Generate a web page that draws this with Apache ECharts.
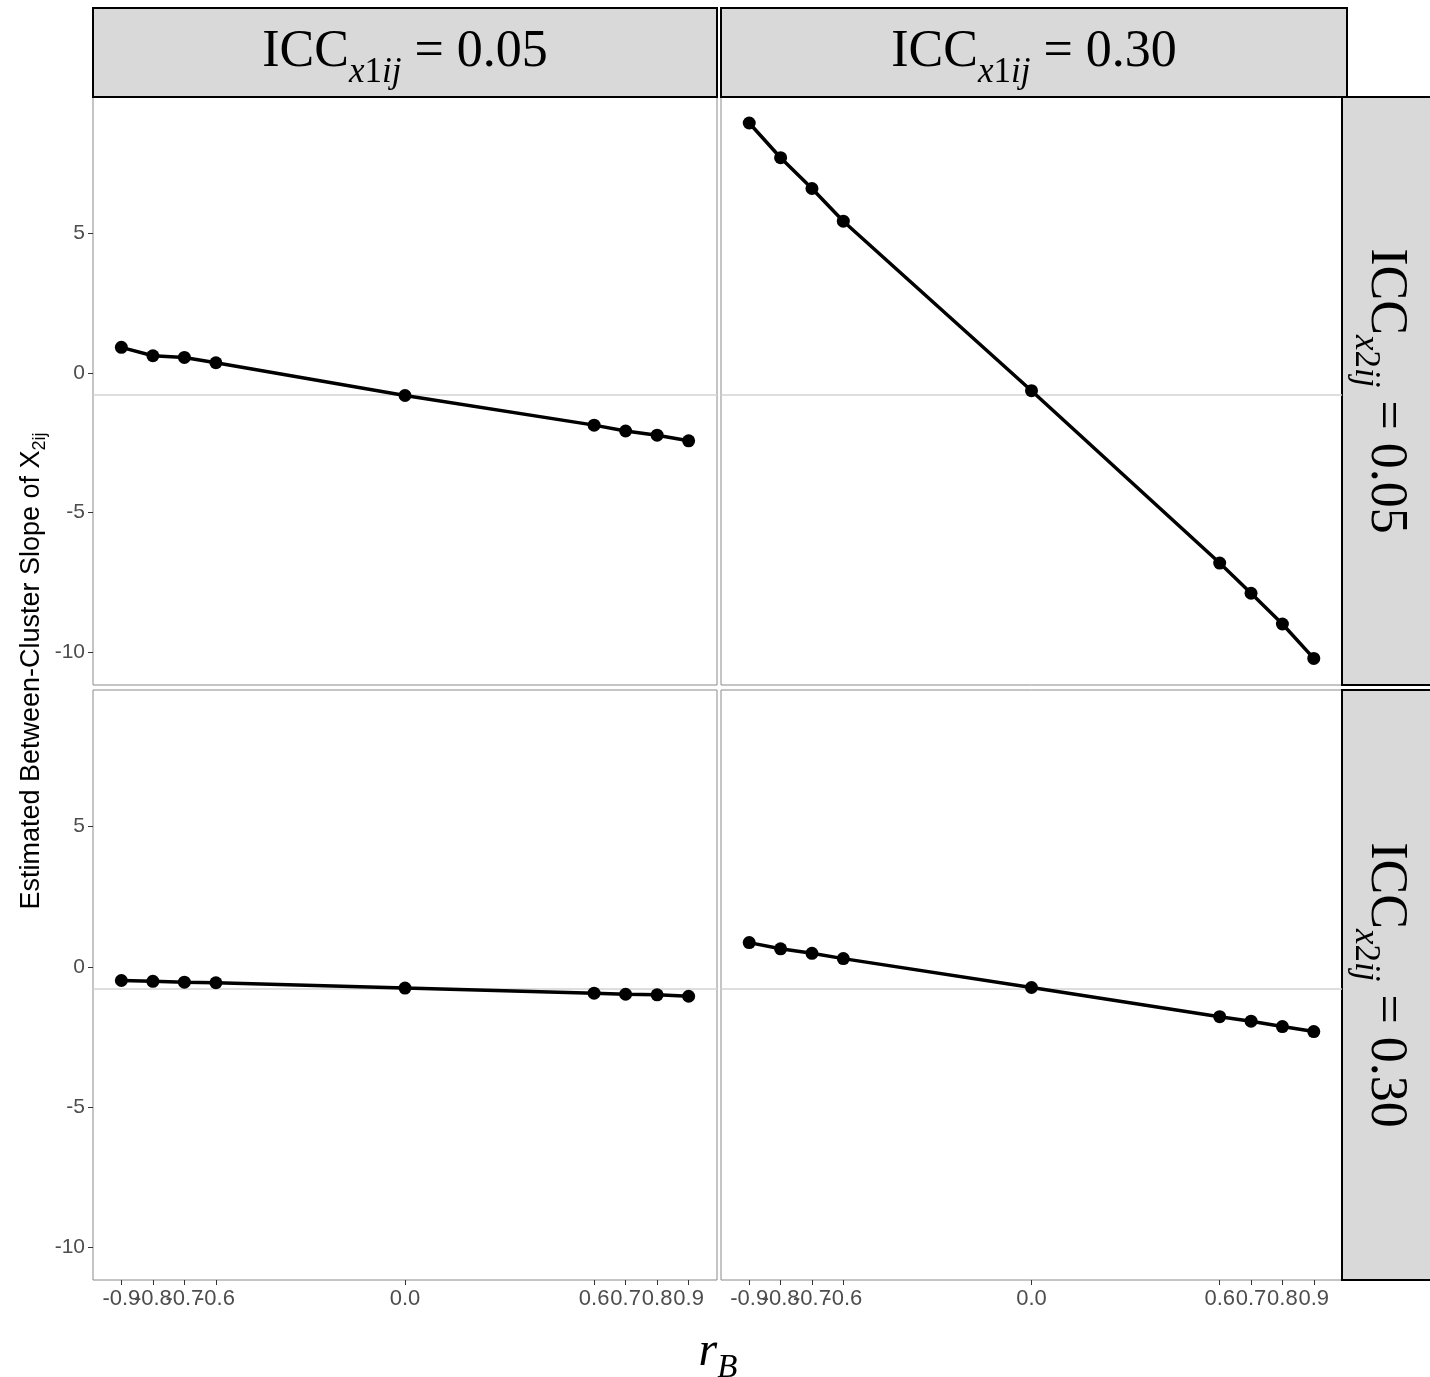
<!DOCTYPE html>
<html>
<head>
<meta charset="utf-8">
<script src="https://cdn.jsdelivr.net/npm/echarts@6/dist/echarts.min.js"></script>
<style>
  html, body { margin: 0; padding: 0; background: #fff; }
  #main { width: 1430px; height: 1377px; }
</style>
</head>
<body>
<div id="main"></div>
<script>
// r_B values (x) and tick marks
var rB = [-0.9, -0.8, -0.7, -0.6, 0.0, 0.6, 0.7, 0.8, 0.9];
var xTicks = [-0.9, -0.8, -0.7, -0.6, 0.0, 0.6, 0.7, 0.8, 0.9];
var yTicks = [-10, -5, 0, 5];

// estimated between-cluster slope, one array per panel
var slopeTL = [0.91, 0.61, 0.55, 0.36, -0.81, -1.87, -2.08, -2.23, -2.43]; // x1 0.05, x2 0.05
var slopeTR = [8.93, 7.69, 6.59, 5.42, -0.64, -6.80, -7.88, -8.98, -10.21]; // x1 0.30, x2 0.05
var slopeBL = [-0.49, -0.52, -0.55, -0.57, -0.76, -0.94, -0.98, -1.00, -1.05]; // x1 0.05, x2 0.30
var slopeBR = [0.86, 0.64, 0.48, 0.29, -0.74, -1.78, -1.94, -2.13, -2.31]; // x1 0.30, x2 0.30

// reference (true) value line
var refLine = -0.8;

var colLabels = ["0.05", "0.30"];
var rowLabels = ["0.05", "0.30"];

// the x labels overlap like in the original; echarts drops a label next to an
// overlapping min label, so every other label goes on a twin axis
var xLabelsA = xTicks.filter(function (v, i) { return i % 2 === 0; });
var xLabelsB = xTicks.filter(function (v, i) { return i % 2 === 1; });

var myChart = echarts.init(document.getElementById("main"));

var serif = "Liberation Serif";
var sans = "Liberation Sans";

// panel rectangles
var grids = [
  { left: 93, top: 97, width: 624, height: 588 },
  { left: 721, top: 97, width: 621, height: 588 },
  { left: 93, top: 690, width: 624, height: 590 },
  { left: 721, top: 690, width: 621, height: 590 }
];
var panelData = [slopeTL, slopeTR, slopeBL, slopeBR];

function pairs(vals) {
  var out = [];
  for (var i = 0; i < rB.length; i++) {
    out.push([rB[i], vals[i]]);
  }
  return out;
}

// strip label text with subscript, e.g. ICC_{x1ij} = 0.05
function stripRich(idx, value) {
  return {
    text: "{a|ICC}{s|x}{n|" + idx + "}{s|ij}{a| = " + value + "}",
    rich: {
      a: { fontFamily: serif, fontSize: 52, lineHeight: 76, fill: "#000" },
      s: { fontFamily: serif, fontStyle: "italic", fontSize: 35, lineHeight: 35, verticalAlign: "bottom", fill: "#000" },
      n: { fontFamily: serif, fontSize: 35, lineHeight: 35, verticalAlign: "bottom", fill: "#000" }
    },
    align: "center",
    verticalAlign: "middle"
  };
}

function topStrip(x, w, value) {
  return {
    type: "group",
    children: [
      {
        type: "rect",
        shape: { x: x, y: 8, width: w, height: 89 },
        style: { fill: "#d9d9d9", stroke: "#000", lineWidth: 2 }
      },
      {
        type: "text",
        x: x + w / 2,
        y: 52,
        style: stripRich(1, value)
      }
    ]
  };
}

function rightStrip(y, h, value) {
  return {
    type: "group",
    children: [
      {
        type: "rect",
        shape: { x: 1342, y: y, width: 100, height: h },
        style: { fill: "#d9d9d9", stroke: "#000", lineWidth: 2 }
      },
      {
        type: "text",
        x: 1386,
        y: y + h / 2,
        rotation: -Math.PI / 2,
        style: stripRich(2, value)
      }
    ]
  };
}

function makeXAxis(gridIdx, labels, showTicks) {
  var bottomRow = gridIdx >= 2;
  return {
    type: "value",
    gridIndex: gridIdx,
    position: "bottom",
    min: -0.99,
    max: 0.99,
    axisLine: { show: false, onZero: false },
    splitLine: { show: false },
    axisTick: {
      show: bottomRow && showTicks,
      customValues: xTicks,
      length: 5,
      lineStyle: { color: "#333", width: 1 }
    },
    axisLabel: {
      show: bottomRow,
      customValues: labels,
      showMinLabel: true,
      showMaxLabel: true,
      hideOverlap: false,
      margin: 8,
      color: "#4d4d4d",
      fontFamily: sans,
      fontSize: 22,
      formatter: function (v) { return v.toFixed(1); }
    }
  };
}

var xAxes = [];
grids.forEach(function (g, i) {
  xAxes.push(makeXAxis(i, xLabelsA, true));
});
grids.forEach(function (g, i) {
  xAxes.push(makeXAxis(i, xLabelsB, false));
});

var option = {
  animation: false,
  backgroundColor: "#fff",
  grid: grids.map(function (g) {
    return {
      left: g.left, top: g.top, width: g.width, height: g.height,
      show: true, borderColor: "#8a8a8a", borderWidth: 1, backgroundColor: "#fff"
    };
  }),
  xAxis: xAxes,
  yAxis: grids.map(function (g, i) {
    var leftCol = i % 2 === 0;
    return {
      type: "value",
      gridIndex: i,
      position: "left",
      min: -11.16,
      max: 9.86,
      axisLine: { show: false, onZero: false },
      splitLine: { show: false },
      axisTick: {
        show: leftCol,
        customValues: yTicks,
        length: 5,
        lineStyle: { color: "#333", width: 1 }
      },
      axisLabel: {
        show: leftCol,
        customValues: yTicks,
        showMinLabel: true,
        showMaxLabel: true,
        margin: 8,
        color: "#4d4d4d",
        fontFamily: sans,
        fontSize: 21
      }
    };
  }),
  series: panelData.map(function (vals, i) {
    return {
      type: "line",
      xAxisIndex: i,
      yAxisIndex: i,
      data: pairs(vals),
      symbol: "circle",
      symbolSize: 13,
      z: 3,
      lineStyle: { color: "#000", width: 3.5 },
      itemStyle: { color: "#000" },
      markLine: {
        silent: true,
        z: 1,
        symbol: "none",
        label: { show: false },
        lineStyle: { color: "#d3d3d3", width: 1.5, type: "solid" },
        data: [{ yAxis: refLine }]
      }
    };
  }),
  graphic: [
    topStrip(93, 624, colLabels[0]),
    topStrip(721, 626, colLabels[1]),
    rightStrip(97, 588, rowLabels[0]),
    rightStrip(690, 590, rowLabels[1]),
    {
      // y axis title
      type: "text",
      x: 32,
      y: 671,
      rotation: Math.PI / 2,
      style: {
        text: "{a|Estimated Between-Cluster Slope of X}{s|2ij}",
        rich: {
          a: { fontFamily: sans, fontSize: 27, lineHeight: 34, fill: "#000" },
          s: { fontFamily: sans, fontSize: 18, lineHeight: 18, verticalAlign: "bottom", fill: "#000" }
        },
        align: "center",
        verticalAlign: "middle"
      }
    },
    {
      // x axis title
      type: "text",
      x: 718,
      y: 1352,
      style: {
        text: "{r|r}{b|B}",
        rich: {
          r: { fontFamily: serif, fontStyle: "italic", fontSize: 48, lineHeight: 66, fill: "#000" },
          b: { fontFamily: serif, fontStyle: "italic", fontSize: 33, lineHeight: 33, verticalAlign: "bottom", fill: "#000" }
        },
        align: "center",
        verticalAlign: "middle"
      }
    }
  ]
};

myChart.setOption(option);
</script>
</body>
</html>
